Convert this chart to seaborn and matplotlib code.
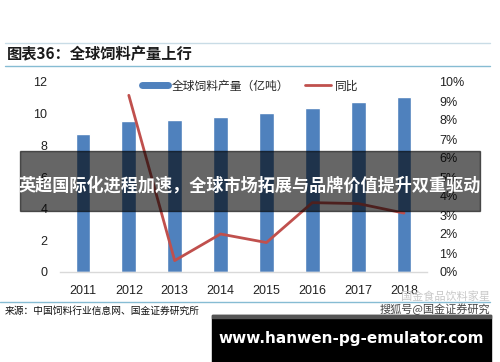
import numpy as np
import pandas as pd
import matplotlib
matplotlib.use("Agg")
import matplotlib.pyplot as plt
from matplotlib.lines import Line2D
import seaborn as sns

years = [2011, 2012, 2013, 2014, 2015, 2016, 2017, 2018]
output = [8.72, 9.56, 9.6, 9.81, 10.02, 10.34, 10.72, 11.04]
yoy_years = [2012, 2013, 2014, 2015, 2016, 2017, 2018]
yoy = [9.3, 0.6, 2.0, 1.55, 3.65, 3.6, 3.1]
left_ticks = [0, 2, 4, 6, 8, 10, 12]
right_ticks = [0, 1, 2, 3, 4, 5, 6, 7, 8, 9, 10]

title = "图表36：全球饲料产量上行"
legend_bar = "全球饲料产量（亿吨）"
legend_line = "同比"
source = "来源：中国饲料行业信息网、国金证券研究所"
banner = "英超国际化进程加速，全球市场拓展与品牌价值提升双重驱动"
watermark = "www.hanwen-pg-emulator.com"
logo1 = "国金食品饮料家星"
logo2 = "搜狐号@国金证券研究"

sns.set_theme(style="white")
plt.rcParams["font.family"] = ["Liberation Sans", "Noto Sans CJK SC", "DejaVu Sans"]
cjk = ["Noto Sans CJK SC", "DejaVu Sans"]

bar_c = "#4F81BD"
line_c = "#C0504D"
rule_c = "#86BCD3"

fig = plt.figure(figsize=(5.0, 3.62), dpi=100)
W, H = 500, 362
ax = fig.add_axes([60 / W, 1 - 272 / H, (427 - 60) / W, (272 - 82) / H])

df = pd.DataFrame({"year": years, "output": output})
sns.barplot(data=df, x="year", y="output", native_scale=True, width=0.32,
            color=bar_c, saturation=1, ax=ax)
ax.set_xlim(years[0] - 0.5, years[-1] + 0.5)
ax.set_ylim(0, 12)
ax.set_yticks(left_ticks)
ax.set_yticklabels([str(t) for t in left_ticks])
ax.set_xticks(years)
ax.set_xticklabels([str(y) for y in years])
ax.set_xlabel("")
ax.set_ylabel("")
for s in ["top", "right", "left"]:
    ax.spines[s].set_visible(False)
ax.spines["bottom"].set_color("#D9D9D9")
ax.spines["bottom"].set_linewidth(1)
ax.tick_params(axis="both", length=0, labelsize=9, colors="#222222")
ax.tick_params(axis="y", pad=9)
ax.tick_params(axis="x", pad=9)

ax2 = ax.twinx()
dl = pd.DataFrame({"year": yoy_years, "yoy": yoy})
sns.lineplot(data=dl, x="year", y="yoy", color=line_c, linewidth=2, ax=ax2)
ax2.set_ylim(0, 10)
ax2.set_yticks(right_ticks)
ax2.set_yticklabels([f"{t}%" for t in right_ticks])
ax2.set_ylabel("")
for s in ["top", "right", "left", "bottom"]:
    ax2.spines[s].set_visible(False)
ax2.tick_params(axis="y", length=0, labelsize=9, colors="#222222", pad=9)
ax2.set_xlim(years[0] - 0.5, years[-1] + 0.5)

handles = [Line2D([0], [0], color=bar_c, linewidth=5),
           Line2D([0], [0], color=line_c, linewidth=2)]
fig.legend(handles, [legend_bar, legend_line], loc="center",
           bbox_to_anchor=(0.5, 1 - 86 / H), ncol=2, frameon=False,
           handlelength=2.2, columnspacing=1.4, handletextpad=0.3,
           prop={"family": cjk, "size": 8.5})

# title and rules
fig.text(7 / W, 1 - 54 / H, title, family=cjk, fontsize=11, fontweight="bold",
         fontstyle="italic", color="#1a1a1a", va="center", ha="left")
fig.add_artist(Line2D([5 / W, 490 / W], [1 - 43 / H] * 2, color="#C9DCE6", lw=1))
fig.add_artist(Line2D([5 / W, 490 / W], [1 - 66 / H] * 2, color=rule_c, lw=1))
fig.add_artist(Line2D([0 / W, 490 / W], [1 - 302 / H] * 2, color=rule_c, lw=1))
fig.text(5 / W, 1 - 311 / H, source, family=cjk, fontsize=7, color="#111111",
         va="center", ha="left")

# faint logo text
fig.text(490 / W, 1 - 297 / H, logo1, family=cjk, fontsize=8, color="#C8C8C8",
         va="center", ha="right")
fig.text(490 / W, 1 - 309 / H, logo2, family=cjk, fontsize=8, color="#444444",
         va="center", ha="right")

# banner overlay
fig.patches.append(plt.Rectangle((20 / W, 1 - 211 / H), 460 / W, 60 / H,
                                 transform=fig.transFigure, color="black",
                                 alpha=0.6, zorder=5))
fig.text(250 / W, 1 - 186 / H, banner, family=cjk, fontsize=12.3,
         fontweight="bold", color="white", va="center", ha="center", zorder=6)

# watermark box
fig.patches.append(plt.Rectangle((212 / W, 0), 279 / W, 47 / H,
                                 transform=fig.transFigure, color="black",
                                 zorder=5))
fig.patches.append(plt.Rectangle((212 / W, 44 / H), 279 / W, 3 / H,
                                 transform=fig.transFigure, color="#555555",
                                 zorder=6))
fig.text(351 / W, 1 - 338 / H, watermark, family=["DejaVu Sans"], fontsize=11,
         fontweight="bold", color="white", va="center", ha="center", zorder=7)

fig.savefig("out.png", dpi=100)
